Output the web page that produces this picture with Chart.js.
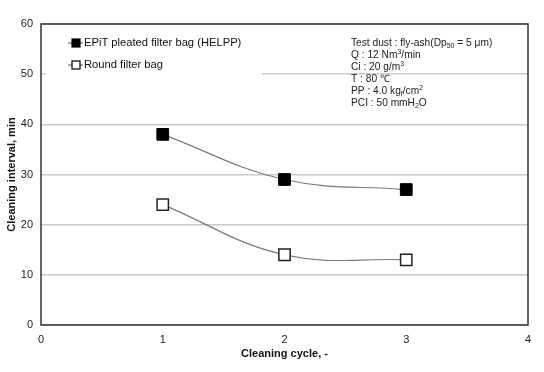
<!DOCTYPE html>
<html>
<head>
<meta charset="utf-8">
<script src="https://cdn.jsdelivr.net/npm/chart.js@4/dist/chart.umd.min.js"></script>
<style>
  html, body { margin: 0; padding: 0; background: #fff; }
  canvas { display: block; }
</style>
</head>
<body>
<canvas id="chart" width="544" height="372"></canvas>
<script>
// data
const cycles = [1, 2, 3];
const helppInterval = [38, 29, 27];
const roundInterval = [24, 14, 13];
const seriesNames = ["EPiT pleated filter bag (HELPP)", "Round filter bag"];
const xTitle = "Cleaning cycle, -";
const yTitle = "Cleaning interval, min";

// test conditions box, each line split in runs (sub / sup)
const conditionLines = [
    [["Test dust : fly-ash(Dp"], ["50", "sub"], [" = 5 \u03bcm)"]],
    [["Q : 12 Nm"], ["3", "sup"], ["/min"]],
    [["Ci : 20 g/m"], ["3", "sup"]],
    [["T : 80 \u2103"]],
    [["PP : 4.0 kg"], ["f", "sub"], ["/cm"], ["2", "sup"]],
    [["PCI : 50 mmH"], ["2", "sub"], ["O"]]
];

const FONT = "'Liberation Sans', Arial, sans-serif";

const toPoints = (xs, ys) => xs.map((x, i) => ({ x, y: ys[i] }));

// frame, legend and condition text drawn on top of the chart
const decorations = {
    id: "decorations",
    beforeDatasetsDraw(chart) {
        const { ctx, chartArea: a } = chart;
        ctx.save();
        ctx.strokeStyle = "#333";
        ctx.lineWidth = 1.5;
        ctx.strokeRect(a.left, a.top, a.right - a.left, a.bottom - a.top);
        ctx.restore();
    },
    afterDraw(chart) {
        const { ctx } = chart;
        ctx.save();

        // legend (white box hides the grid line behind it)
        ctx.fillStyle = "#fff";
        ctx.fillRect(46, 32, 216, 44);
        const rows = [43, 65];
        chart.data.datasets.forEach((ds, i) => {
            const y = rows[i];
            ctx.strokeStyle = "#555";
            ctx.lineWidth = 1;
            ctx.beginPath();
            ctx.moveTo(68, y);
            ctx.lineTo(83, y);
            ctx.stroke();
            ctx.fillStyle = ds.pointBackgroundColor;
            ctx.fillRect(72, y - 4, 8, 8);
            ctx.strokeStyle = "#000";
            ctx.lineWidth = 1.2;
            ctx.strokeRect(72, y - 4, 8, 8);
            ctx.fillStyle = "#111";
            ctx.font = "11.2px " + FONT;
            ctx.textBaseline = "middle";
            ctx.fillText(ds.label, 84, y);
        });

        // test conditions
        ctx.textBaseline = "alphabetic";
        ctx.fillStyle = "#222";
        conditionLines.forEach((runs, i) => {
            let x = 351;
            const base = 46 + i * 12;
            runs.forEach(([t, kind]) => {
                if (kind) {
                    ctx.font = "7px " + FONT;
                    const dy = kind === "sub" ? 2 : -4;
                    ctx.fillText(t, x, base + dy);
                } else {
                    ctx.font = "10.2px " + FONT;
                    ctx.fillText(t, x, base);
                }
                x += ctx.measureText(t).width;
            });
        });
        ctx.restore();
    }
};

const tickFont = { family: FONT, size: 11 };
const titleFont = { family: FONT, size: 11, weight: "bold" };

new Chart(document.getElementById("chart"), {
    type: "scatter",
    data: {
        datasets: [
            {
                label: seriesNames[0],
                data: toPoints(cycles, helppInterval),
                showLine: true,
                tension: 0.4,
                borderColor: "#7a7a7a",
                borderWidth: 1.2,
                pointStyle: "rect",
                pointRadius: 8.3,
                pointBackgroundColor: "#000",
                pointBorderColor: "#000",
                pointBorderWidth: 1
            },
            {
                label: seriesNames[1],
                data: toPoints(cycles, roundInterval),
                showLine: true,
                tension: 0.4,
                borderColor: "#7a7a7a",
                borderWidth: 1.2,
                pointStyle: "rect",
                pointRadius: 8,
                pointBackgroundColor: "#fff",
                pointBorderColor: "#222",
                pointBorderWidth: 1.5
            }
        ]
    },
    options: {
        responsive: false,
        animation: false,
        layout: { padding: { left: 0, right: 16, top: 24, bottom: 0 } },
        plugins: { legend: { display: false }, tooltip: { enabled: false } },
        scales: {
            x: {
                type: "linear",
                min: 0,
                max: 4,
                ticks: { stepSize: 1, padding: 8, color: "#222", font: tickFont },
                grid: { display: false, drawTicks: false },
                border: { display: false },
                title: { display: true, text: xTitle, color: "#111", font: titleFont, padding: { top: 0, bottom: 11 } },
                afterFit: (s) => { s.height = 47; }
            },
            y: {
                min: 0,
                max: 60,
                ticks: { stepSize: 10, padding: 8, color: "#222", font: tickFont },
                grid: { color: "#cacaca", lineWidth: 1.5, drawTicks: false },
                border: { display: false },
                title: { display: true, text: yTitle, color: "#111", font: titleFont, padding: { top: 5, bottom: 0 } },
                afterFit: (s) => { s.width = 41; }
            }
        }
    },
    plugins: [decorations]
});
</script>
</body>
</html>
